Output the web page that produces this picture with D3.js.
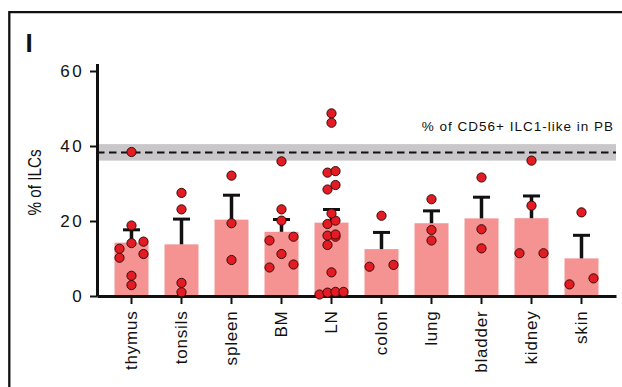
<!DOCTYPE html>
<html>
<head>
<meta charset="utf-8">
<script src="https://cdn.jsdelivr.net/npm/d3@7"></script>
<style>
  body { margin: 0; background: #fff; }
  svg { display: block; }
  text { font-family: "Liberation Sans", Arial, Helvetica, sans-serif; fill: #111; }
</style>
</head>
<body>
<div id="chart"></div>
<script>
// tissues on the x axis
const tissues = ["thymus", "tonsils", "spleen", "BM", "LN", "colon", "lung", "bladder", "kidney", "skin"];

// % of ILCs per donor, one array per tissue
const thymus  = [38.4, 18.8, 14.5, 14.1, 12.6, 11.2, 10.2, 5.4, 2.9];
const tonsils = [27.5, 23.1, 3.5, 1.0];
const spleen  = [32.1, 19.4, 9.6];
const bm      = [35.9, 23.1, 20.1, 15.8, 14.8, 11.2, 8.4, 7.6];
const ln      = [48.7, 46.2, 33.3, 32.9, 29.6, 28.4, 22.0, 20.1, 19.2, 16.4, 16.1, 15.8, 13.6, 6.3, 1.1, 1.1, 0.9, 0.4];
const colon   = [21.4, 8.3, 7.8];
const lung    = [25.8, 17.6, 14.8];
const bladder = [31.6, 17.8, 12.7];
const kidney  = [36.1, 24.1, 11.4, 11.4];
const skin    = [22.3, 4.7, 3.1];

// CD56+ ILC1-like in PB: mean and range
const pbMean = 38.3;
const pbRange = [36.1, 40.5];

const yTicks = [0, 20, 40, 60];

const samples = [thymus, tonsils, spleen, bm, ln, colon, lung, bladder, kidney, skin];

const data = tissues.map((name, i) => {
    const values = samples[i];
    const mean = d3.mean(values);
    const sem = d3.deviation(values) / Math.sqrt(values.length);
    return { name, values, mean, sem };
});

const width = 622;
const height = 387;
const r = 4.6;

const svg = d3.select("#chart")
    .append("svg")
    .attr("width", width)
    .attr("height", height);

// panel frame (left + top edges)
svg.append("path")
    .attr("d", `M9.3,${height}V12.2H${width}`)
    .attr("fill", "none")
    .attr("stroke", "#111")
    .attr("stroke-width", 2.3);

svg.append("text")
    .attr("x", 25.5)
    .attr("y", 52)
    .style("font-size", "26px")
    .style("font-weight", "bold")
    .text("I");

const x = d3.scaleBand()
    .domain(tissues)
    .range([97, 616])
    .paddingInner(0.32)
    .paddingOuter(0.35);

const y = d3.scaleLinear()
    .domain([0, 62])
    .range([296, 63.5]);

// PB reference band + dashed mean line
svg.append("rect")
    .attr("x", 97)
    .attr("y", y(pbRange[1]))
    .attr("width", 616 - 97)
    .attr("height", y(pbRange[0]) - y(pbRange[1]))
    .attr("fill", "#c9c7ca");

svg.append("line")
    .attr("x1", 97)
    .attr("x2", 616)
    .attr("y1", y(pbMean))
    .attr("y2", y(pbMean))
    .attr("stroke", "#111")
    .attr("stroke-width", 2)
    .attr("stroke-dasharray", "7.5,4.5");

svg.append("text")
    .attr("x", 614)
    .attr("y", 131)
    .attr("text-anchor", "end")
    .style("font-size", "13.5px")
    .style("letter-spacing", "1px")
    .text("% of CD56+ ILC1-like in PB");

// bars (mean)
svg.append("g")
    .selectAll("rect")
    .data(data)
    .join("rect")
    .attr("x", d => x(d.name))
    .attr("width", x.bandwidth())
    .attr("y", d => y(d.mean))
    .attr("height", d => y(0) - y(d.mean))
    .attr("fill", "#f59393");

// error bars (SEM, upper only)
const err = svg.append("g")
    .selectAll("g")
    .data(data)
    .join("g")
    .attr("transform", d => `translate(${x(d.name) + x.bandwidth() / 2},0)`)
    .attr("stroke", "#111")
    .attr("stroke-width", 3.5);

err.append("line")
    .attr("y1", d => y(d.mean))
    .attr("y2", d => y(d.mean + d.sem));

err.append("line")
    .attr("x1", -8.5)
    .attr("x2", 8.5)
    .attr("y1", d => y(d.mean + d.sem))
    .attr("y2", d => y(d.mean + d.sem))
    .attr("stroke-width", 3);

// axes
const yAxis = svg.append("g")
    .attr("transform", "translate(97,0)")
    .call(d3.axisLeft(y).tickValues(yTicks).tickSize(7).tickSizeOuter(0).tickPadding(5.8));

const xAxis = svg.append("g")
    .attr("transform", "translate(0,296)")
    .call(d3.axisBottom(x).tickSize(8).tickSizeOuter(0));

[yAxis, xAxis].forEach(ax => {
    ax.select(".domain").attr("stroke", "#111").attr("stroke-width", 3);
    ax.selectAll(".tick line").attr("stroke", "#111").attr("stroke-width", 2);
});

yAxis.selectAll(".tick text")
    .attr("fill", "#111")
    .style("font-size", "17px")
    .style("letter-spacing", "2.5px");

xAxis.selectAll(".tick text")
    .attr("fill", "#111")
    .attr("transform", "rotate(-90)")
    .attr("x", -14.5)
    .attr("y", 0)
    .attr("dy", "0.35em")
    .attr("text-anchor", "end")
    .style("font-size", "17px")
    .style("letter-spacing", "0.8px");

// y axis title (condensed)
svg.append("text")
    .attr("transform", "translate(41,182.5) rotate(-90)")
    .attr("text-anchor", "middle")
    .attr("textLength", 66)
    .attr("lengthAdjust", "spacingAndGlyphs")
    .style("font-family", "'Liberation Sans Narrow', 'Liberation Sans', sans-serif")
    .style("font-size", "18px")
    .text("% of ILCs");

// scatter: group close values into rows, spread each row across the bar
function swarm(d) {
    const spread = x.bandwidth() - 2 * (r + 0.4);
    const sorted = d.values.slice().sort(d3.ascending);
    const rows = [];
    sorted.forEach(v => {
        const row = rows[rows.length - 1];
        if (row && y(row[0]) - y(v) < 9) row.push(v);
        else rows.push([v]);
    });
    const m = d3.max(rows, row => row.length);
    const cx = x(d.name) + x.bandwidth() / 2;
    const pts = [];
    rows.forEach(row => {
        const n = row.length;
        const step = n === 1 ? 0 : (m <= 3 ? spread / (n - 1) : spread / (m - 1));
        row.forEach((v, i) => pts.push({ v, cx: cx + (i - (n - 1) / 2) * step }));
    });
    return pts;
}

svg.append("g")
    .selectAll("circle")
    .data(data.flatMap(swarm))
    .join("circle")
    .attr("cx", d => d.cx)
    .attr("cy", d => y(d.v))
    .attr("r", r)
    .attr("fill", "#e31b23")
    .attr("stroke", "#3a0c0c")
    .attr("stroke-width", 1);
</script>
</body>
</html>
